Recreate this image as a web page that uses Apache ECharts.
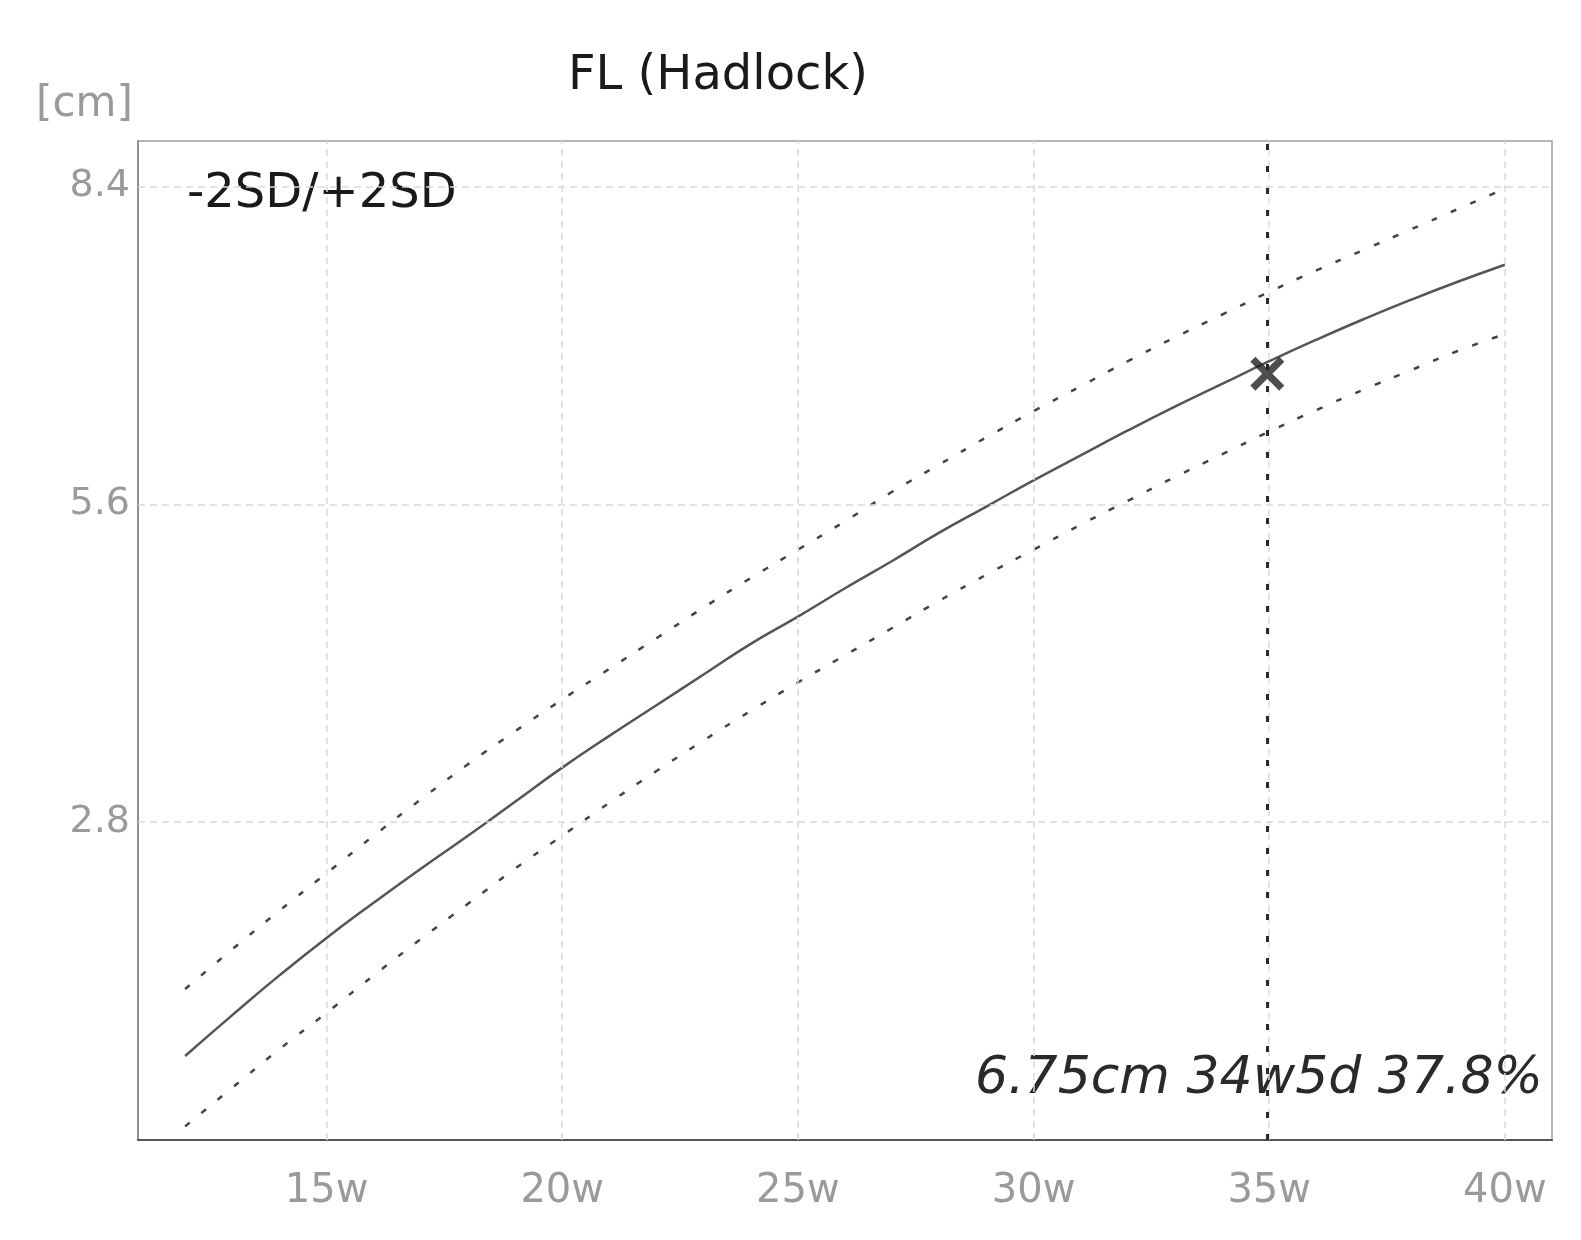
<!DOCTYPE html>
<html>
<head>
<meta charset="utf-8">
<script src="https://cdn.jsdelivr.net/npm/echarts@6/dist/echarts.min.js"></script>
<style>
html,body{margin:0;padding:0;background:#fff;}
#chart{width:1581px;height:1240px;}
</style>
</head>
<body>
<div id="chart"></div>
<script>
// Gestational age (weeks)
const weeks   = [12,13,14,15,16,17,18,19,20,21,22,23,24,25,26,27,28,29,30,31,32,33,34,35,36,37,38,39,40];
// FL mean curve (cm)
const meanFL  = [0.74,1.10,1.45,1.78,2.09,2.39,2.68,2.98,3.28,3.56,3.83,4.10,4.37,4.61,4.86,5.10,5.35,5.58,5.81,6.03,6.25,6.46,6.66,6.86,7.05,7.23,7.40,7.56,7.71];
// +2SD curve (cm)
const upperFL = [1.33,1.68,2.02,2.35,2.68,3.00,3.31,3.60,3.88,4.15,4.42,4.69,4.95,5.20,5.45,5.71,5.95,6.19,6.42,6.64,6.86,7.07,7.27,7.47,7.66,7.84,8.02,8.20,8.38];
// -2SD curve (cm)
const lowerFL = [0.12,0.46,0.80,1.12,1.45,1.77,2.08,2.39,2.68,2.97,3.25,3.52,3.78,4.03,4.27,4.51,4.75,4.98,5.20,5.42,5.63,5.84,6.04,6.24,6.43,6.61,6.78,6.95,7.10];
// measurement
const measuredWeek = 34.96;
const measuredFL = 6.75;
const measureText = '6.75cm 34w5d 37.8%';
// ticks
const xTicks = [15,20,25,30,35,40];
const yTicks = [2.8,5.6,8.4];

const zip = (xs, ys) => xs.map((x, i) => [x, ys[i]]);
const FONT = '"DejaVu Sans", sans-serif';

const chart = echarts.init(document.getElementById('chart'));
const option = {
  backgroundColor: '#ffffff',
  animation: false,
  grid: {left: 138, right: 29, top: 141, bottom: 100, show: true, borderColor: '#a0a0a0', borderWidth: 1.5, containLabel: false},
  xAxis: {
    type: 'value', min: 11, max: 41,
    axisLine: {show: true, onZero: false, lineStyle: {color: '#555', width: 2}},
    axisTick: {show: false, customValues: xTicks},
    splitLine: {show: false},
    axisLabel: {customValues: xTicks, formatter: v => v + 'w', color: '#9a9a9a', fontSize: 40, fontFamily: FONT, margin: 32}
  },
  yAxis: {
    type: 'value', min: 0, max: 8.8,
    axisLine: {show: true, onZero: false, lineStyle: {color: '#808080', width: 1.5}},
    axisTick: {show: false, customValues: yTicks},
    splitLine: {show: false},
    axisLabel: {customValues: yTicks, formatter: v => v.toFixed(1), color: '#9a9a9a', fontSize: 38, fontFamily: FONT, margin: 8}
  },
  graphic: [
    {type: 'text', left: 36, top: 84, style: {text: '[cm]', font: '42px ' + FONT, fill: '#9a9a9a'}},
    {type: 'text', left: 568, top: 53, style: {text: 'FL (Hadlock)', font: '48px ' + FONT, fill: '#1a1a1a'}},
    {type: 'text', left: 187, top: 171, style: {text: '-2SD/+2SD', font: '48px ' + FONT, fill: '#1a1a1a'}},
    {type: 'text', right: 38, top: 1053, style: {text: measureText, font: 'italic 52px ' + FONT, fill: '#2a2a2a'}}
  ],
  series: [
    {
      name: 'grid', type: 'line', data: [], silent: true,
      markLine: {
        silent: true, symbol: 'none', label: {show: false},
        lineStyle: {color: '#dadada', width: 1.5, type: [7, 5]},
        data: xTicks.map(v => ({xAxis: v})).concat(yTicks.map(v => ({yAxis: v})))
      }
    },
    {
      name: 'mean', type: 'line', smooth: true, symbol: 'none',
      data: zip(weeks, meanFL),
      lineStyle: {color: '#555', width: 2.5}
    },
    {
      name: '+2SD', type: 'line', smooth: true, symbol: 'none',
      data: zip(weeks, upperFL),
      lineStyle: {color: '#444', width: 2.5, type: [6, 15]}
    },
    {
      name: '-2SD', type: 'line', smooth: true, symbol: 'none',
      data: zip(weeks, lowerFL),
      lineStyle: {color: '#444', width: 2.5, type: [6, 15]}
    },
    {
      name: 'measure', type: 'scatter', z: 5,
      symbol: 'path://M0,3 L3,0 L10,7 L17,0 L20,3 L13,10 L20,17 L17,20 L10,13 L3,20 L0,17 L7,10 Z',
      symbolSize: 34,
      itemStyle: {color: '#222'},
      data: [[measuredWeek, measuredFL]],
      markLine: {
        silent: true, symbol: 'none', label: {show: false},
        lineStyle: {color: '#2a2a2a', width: 3, type: [6, 16]},
        data: [{xAxis: measuredWeek}]
      }
    }
  ]
};
chart.setOption(option);
</script>
</body>
</html>
